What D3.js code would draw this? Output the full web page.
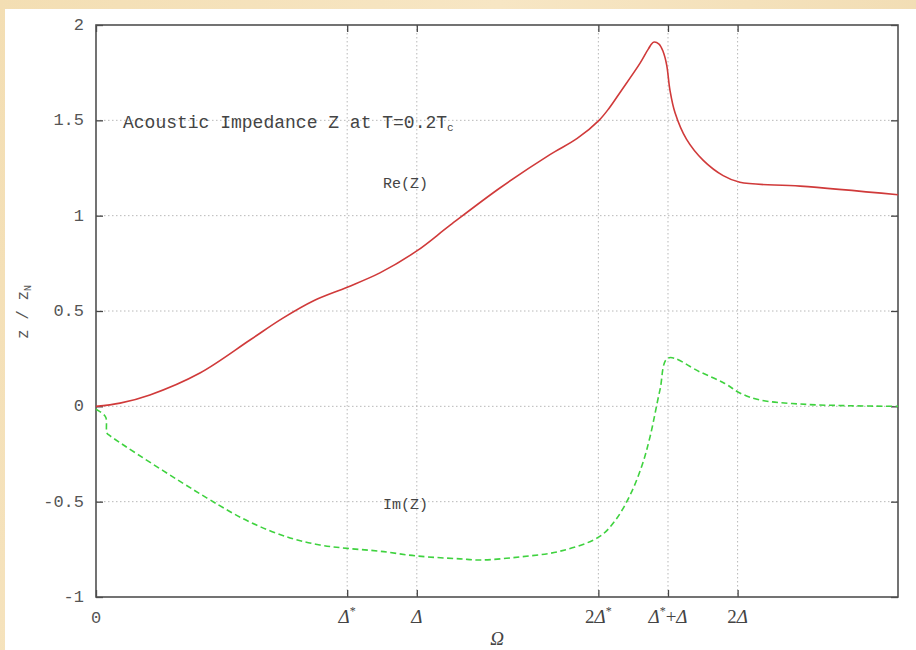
<!DOCTYPE html>
<html>
<head>
<meta charset="utf-8">
<script src="https://cdn.jsdelivr.net/npm/d3@7"></script>
<style>
  html, body { margin: 0; padding: 0; background: #fff; }
  svg { display: block; }
</style>
</head>
<body>
<svg id="chart" width="916" height="650"></svg>
<script>
// Frequency axis in units of the gap Δ; Δ* is the reduced gap.
const deltaStar = 0.783;
const xDomain = [0, 2.5];
const yDomain = [-1, 2];

const xTickValues = [0, deltaStar, 1, 2 * deltaStar, deltaStar + 1, 2];
const xTickLabels = [
  { base: "0", sup: "" },
  { base: "Δ", sup: "*" },
  { base: "Δ", sup: "" },
  { base: "2Δ", sup: "*" },
  { base: "Δ", sup: "*", tail: "+Δ" },
  { base: "2Δ", sup: "" }
];
const yTickValues = [-1, -0.5, 0, 0.5, 1, 1.5, 2];
const yTickLabels = ["-1", "-0.5", "0", "0.5", "1", "1.5", "2"];

// Re(Z) / Z_N
const reX = [0, 0.075, 0.168, 0.324, 0.48, 0.58, 0.68, 0.783, 0.885, 1.0, 1.104, 1.259, 1.415,
             1.50, 1.568, 1.60, 1.633, 1.696, 1.722, 1.738, 1.755, 1.768, 1.779, 1.789, 1.805, 1.841,
             1.893, 1.955, 2.007, 2.195, 2.5];
const reY = [0, 0.017, 0.06, 0.175, 0.348, 0.46, 0.555, 0.625, 0.70, 0.815, 0.95, 1.145, 1.32,
             1.405, 1.50, 1.565, 1.645, 1.80, 1.875, 1.91, 1.90, 1.86, 1.79, 1.66, 1.54, 1.40,
             1.29, 1.21, 1.175, 1.155, 1.11];

// Im(Z) / Z_N
const imX = [0, 0.022, 0.031, 0.034, 0.04, 0.345, 0.48, 0.605, 0.698, 0.783, 0.885, 1.0,
             1.135, 1.197, 1.32, 1.446, 1.568, 1.618, 1.665, 1.702, 1.727, 1.758, 1.783,
             1.883, 1.96, 2.007, 2.07, 2.195, 2.35, 2.5];
const imY = [-0.015, -0.04, -0.06, -0.14, -0.15, -0.48, -0.607, -0.69, -0.727, -0.745, -0.76, -0.785,
             -0.80, -0.806, -0.79, -0.76, -0.685, -0.6, -0.465, -0.31, -0.16, 0.086, 0.253,
             0.18, 0.12, 0.07, 0.033, 0.012, 0.003, 0];

const titleText = "Acoustic Impedance Z at T=0.2T";
const titleSub = "c";

const svg = d3.select("#chart");
const W = 916, H = 650;
const plot = { left: 96, right: 898, top: 25, bottom: 597 };

// paper background
const defs = svg.append("defs");
const grad = defs.append("linearGradient").attr("id", "paper")
  .attr("x1", "0").attr("y1", "0").attr("x2", "1").attr("y2", "0.3");
grad.append("stop").attr("offset", "0%").attr("stop-color", "#f3deb3");
grad.append("stop").attr("offset", "50%").attr("stop-color", "#f7e6c4");
grad.append("stop").attr("offset", "100%").attr("stop-color", "#f1dcb2");
svg.append("rect").attr("width", W).attr("height", H).attr("fill", "url(#paper)");
svg.append("rect").attr("x", 5).attr("y", 9).attr("width", W - 5).attr("height", H - 9).attr("fill", "#fff");

const x = d3.scaleLinear().domain(xDomain).range([plot.left, plot.right]);
const y = d3.scaleLinear().domain(yDomain).range([plot.bottom, plot.top]);

const mono = "'Liberation Mono', 'DejaVu Sans Mono', monospace";
const serif = "'Liberation Serif', 'DejaVu Serif', serif";

// grid
const grid = svg.append("g").attr("stroke", "#b8b8b8").attr("stroke-width", 1)
  .attr("stroke-dasharray", "1.5,2.5").attr("fill", "none");
xTickValues.filter(v => v > 0).forEach(v => {
  grid.append("line").attr("x1", x(v)).attr("x2", x(v)).attr("y1", plot.top).attr("y2", plot.bottom);
});
yTickValues.filter(v => v > yDomain[0] && v < yDomain[1]).forEach(v => {
  grid.append("line").attr("x1", plot.left).attr("x2", plot.right).attr("y1", y(v)).attr("y2", y(v));
});

// axes via d3 axis generators (inward ticks)
const yAxis = d3.axisLeft(y).tickValues(yTickValues).tickSize(-7).tickFormat("");
const yAxisR = d3.axisRight(y).tickValues(yTickValues).tickSize(-7).tickFormat("");
const xAxis = d3.axisBottom(x).tickValues(xTickValues).tickSize(-7).tickFormat("");
const xAxisT = d3.axisTop(x).tickValues(xTickValues).tickSize(-7).tickFormat("");

function styleAxis(g) {
  g.select(".domain").remove();
  g.selectAll(".tick line").attr("stroke", "#444").attr("stroke-width", 1.3);
}
svg.append("g").attr("transform", `translate(${plot.left},0)`).call(yAxis).call(styleAxis);
svg.append("g").attr("transform", `translate(${plot.right},0)`).call(yAxisR).call(styleAxis);
svg.append("g").attr("transform", `translate(0,${plot.bottom})`).call(xAxis).call(styleAxis);
svg.append("g").attr("transform", `translate(0,${plot.top})`).call(xAxisT).call(styleAxis);

// frame
svg.append("rect").attr("x", plot.left).attr("y", plot.top)
  .attr("width", plot.right - plot.left).attr("height", plot.bottom - plot.top)
  .attr("fill", "none").attr("stroke", "#505050").attr("stroke-width", 1.6);

// y tick labels
svg.append("g").selectAll("text").data(yTickValues).join("text")
  .attr("x", plot.left - 12).attr("y", d => y(d) + 5)
  .attr("text-anchor", "end")
  .attr("font-family", mono).attr("font-size", 17).attr("fill", "#555")
  .text((d, i) => yTickLabels[i]);

// x tick labels
const xl = svg.append("g");
xTickValues.forEach((v, i) => {
  const lab = xTickLabels[i];
  const t = xl.append("text").attr("x", x(v)).attr("y", plot.bottom + 26)
    .attr("text-anchor", "middle").attr("fill", "#444");
  if (lab.base === "0") {
    t.attr("font-family", mono).attr("font-size", 17).attr("fill", "#555").text("0");
    return;
  }
  t.attr("font-family", serif).attr("font-size", 19);
  const parts = lab.base.match(/^(\d*)(Δ)$/);
  if (parts[1]) t.append("tspan").text(parts[1]);
  t.append("tspan").attr("font-style", "italic").text(parts[2]);
  if (lab.sup) t.append("tspan").attr("font-size", 12).attr("dy", -8).text(lab.sup);
  if (lab.tail) {
    t.append("tspan").attr("dy", 8).text("+");
    t.append("tspan").attr("font-style", "italic").text("Δ");
  }
});

// axis titles
svg.append("text").attr("x", 497).attr("y", 645).attr("text-anchor", "middle")
  .attr("font-family", serif).attr("font-style", "italic").attr("font-size", 19)
  .attr("fill", "#444").text("Ω");

const yl = svg.append("text").attr("transform", "translate(28,312) rotate(-90)")
  .attr("text-anchor", "middle").attr("font-family", mono).attr("font-size", 16).attr("fill", "#555");
yl.append("tspan").text("z / z");
yl.append("tspan").attr("font-size", 10).attr("dy", 3).text("N");

// title inside plot
const tt = svg.append("text").attr("x", 123).attr("y", 128)
  .attr("font-family", mono).attr("font-size", 18).attr("fill", "#444");
tt.append("tspan").text(titleText);
tt.append("tspan").attr("font-size", 11).attr("dy", 3).text(titleSub);

// curves
const reData = reX.map((v, i) => [v, reY[i]]);
const imData = imX.map((v, i) => [v, imY[i]]);
const line = d3.line().x(d => x(d[0])).y(d => y(d[1])).curve(d3.curveCatmullRom.alpha(0.5));

svg.append("path").datum(reData).attr("d", line)
  .attr("fill", "none").attr("stroke", "#d03a3a").attr("stroke-width", 1.6);
svg.append("path").datum(imData).attr("d", line)
  .attr("fill", "none").attr("stroke", "#3fd23f").attr("stroke-width", 1.6)
  .attr("stroke-dasharray", "6,3.5");

// series labels
svg.append("text").attr("x", 383).attr("y", 188)
  .attr("font-family", mono).attr("font-size", 15).attr("fill", "#444").text("Re(Z)");
svg.append("text").attr("x", 383).attr("y", 509)
  .attr("font-family", mono).attr("font-size", 15).attr("fill", "#444").text("Im(Z)");
</script>
</body>
</html>
